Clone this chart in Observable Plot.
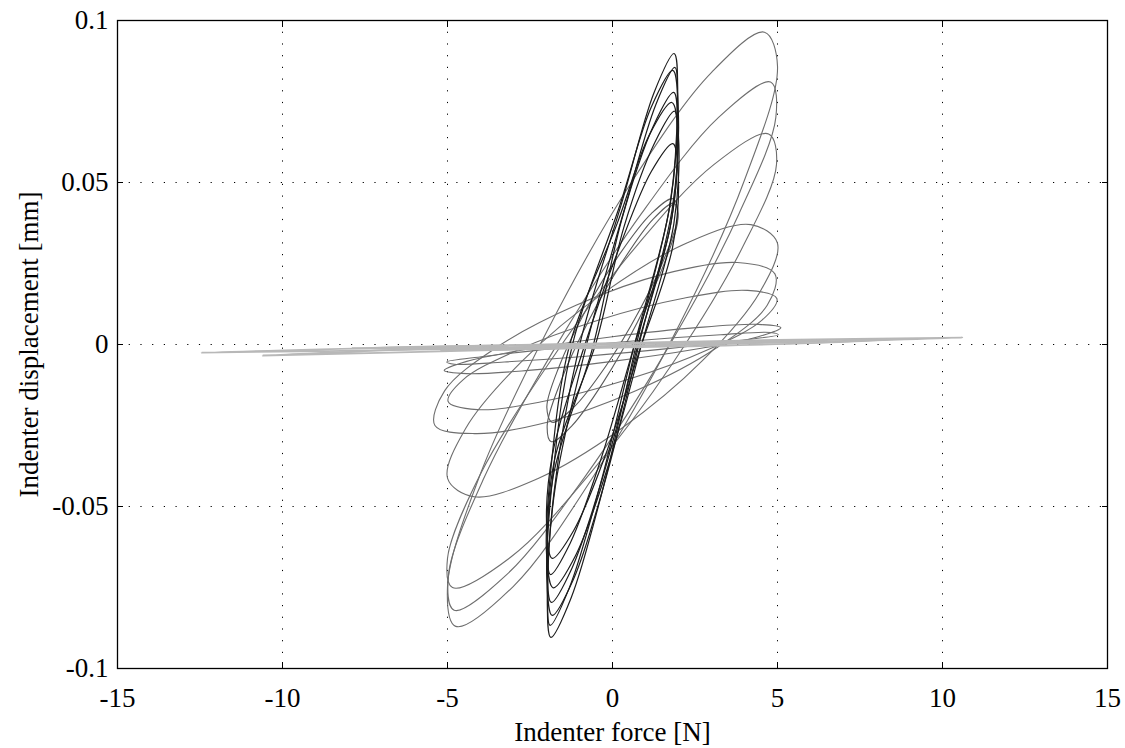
<!DOCTYPE html>
<html><head><meta charset="utf-8">
<script src="https://cdn.jsdelivr.net/npm/d3@7"></script>
<script src="https://cdn.jsdelivr.net/npm/@observablehq/plot@0.6"></script>
<style>
body{margin:0;background:#fff}
#chart{width:1125px;height:748px}
#chart svg, #chart svg text{font-family:"Liberation Serif","Times New Roman",serif !important;}
</style>
</head><body><div id="chart"></div>
<script>
const xTicks = [-15, -10, -5, 0, 5, 10, 15];
const yTicks = [-0.1, -0.05, 0, 0.05, 0.1];
const xLabel = "Indenter force [N]";
const yLabel = "Indenter displacement [mm]";

// Black loops (force about ±2 N), points [force, displacement] read around each loop
const darkLoops = [
  [[.716,-.0003],[1.77,.0448],[1.976,.0777],[1.868,.0898],[1.258,.0777],[.312,.0448],[-1.0,-.0003],[-1.77,-.0454],[-1.976,-.0783],[-1.868,-.0904],[-1.258,-.0783],[-.312,-.0454]],
  [[.652,-.0006],[1.73,.0425],[1.964,.0740],[1.892,.0855],[1.312,.0740],[.382,.0425],[-.8,-.0006],[-1.73,-.0437],[-1.964,-.0752],[-1.892,-.0867],[-1.312,-.0752],[-.382,-.0437]],
  [[.814,.0005],[1.82,.0426],[1.99,.0733],[1.828,.0846],[1.176,.0733],[.21,.0426],[-1.2,.0005],[-1.82,-.0416],[-1.99,-.0723],[-1.828,-.0836],[-1.176,-.0723],[-.21,-.0416]],
  [[.75,-.0009],[1.79,.0385],[1.98,.0673],[1.854,.0778],[1.232,.0673],[.278,.0385],[-.6,-.0009],[-1.79,-.0403],[-1.98,-.0691],[-1.854,-.0796],[-1.232,-.0691],[-.278,-.0403]],
  [[.876,-.0002],[1.86,.0373],[1.996,.0647],[1.798,.0747],[1.118,.0647],[.14,.0373],[-1.3,-.0002],[-1.86,-.0377],[-1.996,-.0651],[-1.798,-.0751],[-1.118,-.0651],[-.14,-.0377]],
  [[.684,.0005],[1.75,.0363],[1.97,.0624],[1.88,.072],[1.286,.0624],[.348,.0363],[-.5,.0005],[-1.75,-.0353],[-1.97,-.0614],[-1.88,-.071],[-1.286,-.0614],[-.348,-.0353]],
  [[.814,-.002],[1.82,.030],[1.99,.0534],[1.828,.062],[1.176,.0534],[.21,.030],[-.9,-.002],[-1.82,-.034],[-1.99,-.0574],[-1.828,-.066],[-1.176,-.0574],[-.21,-.034]]
];

// Dark grey transition loops
const midLoops = [
  [[.814,.0105],[1.618,.0278],[1.99,.0404],[1.828,.045],[1.176,.0404],[.21,.0278],[-.814,.0105],[-1.618,-.0068],[-1.99,-.0194],[-1.828,-.024],[-1.176,-.0194],[-.21,-.0068]],
  [[.75,.0068],[1.576,.0252],[1.98,.0387],[1.854,.0436],[1.232,.0387],[.278,.0252],[-.75,.0068],[-1.576,-.0116],[-1.98,-.0251],[-1.854,-.03],[-1.232,-.0251],[-.278,-.0116]]
];

// Grey loops (force about ±5 N)
const grayLoops = [
  [[1.955,.0047],[3.995,.0506],[5.0,.0860],[4.605,.0964],[3.01,.0841],[.61,.0506],[-1.955,.0047],[-4.05,-.0412],[-5.0,-.0747],[-4.75,-.087],[-3.01,-.0747],[-.61,-.0412]],
  [[1.71,-.0005],[3.83,.0403],[4.95,.0701],[4.79,.081],[3.215,.0701],[.87,.0403],[-1.71,-.0005],[-3.9,-.0413],[-4.97,-.0711],[-4.8,-.082],[-3.215,-.0711],[-.87,-.0413]],
  [[1.875,-.005],[3.94,.030],[4.97,.0556],[4.73,.065],[3.08,.0556],[.695,.030],[-1.875,-.005],[-4.0,-.040],[-5.0,-.066],[-4.85,-.075],[-3.08,-.0656],[-.695,-.040]],
  [[2.725,-.005],[4.455,.016],[4.995,.0314],[4.195,.037],[2.27,.0314],[-.26,.016],[-2.725,-.005],[-4.455,-.026],[-4.995,-.0414],[-4.195,-.047],[-2.27,-.0414],[.26,-.026]],
  [[3.144,-.0011],[4.688,.0121],[4.922,.0218],[3.783,.0253],[1.578,.0218],[-1.105,.0121],[-3.544,-.0011],[-5.088,-.0143],[-5.38,-.025],[-4.183,-.0275],[-1.978,-.024],[.705,-.0143]],
  [[2.87,-.0017],[4.53,.0075],[4.98,.0142],[4.095,.0167],[2.115,.0142],[-.435,.0075],[-2.87,-.0017],[-4.53,-.0109],[-4.98,-.0176],[-4.095,-.0201],[-2.115,-.0176],[.435,-.0109]],
  [[2.55,-.0014],[4.417,.0024],[5.1,.0052],[4.417,.0062],[2.55,.0052],[0,.0024],[-2.55,-.0014],[-4.417,-.0052],[-5.1,-.008],[-4.417,-.009],[-2.55,-.008],[0,-.0052]],
  [[1.744,-.0012],[3.907,.0013],[5.024,.003],[4.794,.0037],[3.279,.003],[.887,.0013],[-1.744,-.0012],[-3.907,-.0037],[-5.024,-.0054],[-4.794,-.0061],[-3.279,-.0054],[-.887,-.0037]]
];

// Light grey, nearly flat loops (large force, tiny displacement)
const lightLoops = [
  [[10.6,.0021],[5,.0014],[0,.0004],[-6,-.0008],[-12.45,-.0025],[-6,-.0016],[0,-.0004],[5,.0006]],
  [[8.5,.0016],[3,.0008],[-3,-.0004],[-10.6,-.0034],[-4,-.0018],[2,-.0006],[6,.0004]],
  [[6.5,.0013],[0,.0002],[-7.9,-.0011],[-3,-.0010],[3,.0001]],
  [[5.1,.0011],[0,.0001],[-5.2,-.0018],[0,-.0007]]
];

function rows(loops, tag) {
  return loops.flatMap((pts, i) => pts.map(([F, d]) => ({loop: tag + i, F, d})));
}

const font = "Liberation Serif";
const fs = 27;
const lineOpts = (stroke, w) => ({x: "F", y: "d", z: "loop", stroke, strokeWidth: w, curve: "catmull-rom-closed"});

const chart = Plot.plot({
  width: 1125,
  height: 748,
  marginLeft: 117,
  marginRight: 18,
  marginTop: 20,
  marginBottom: 80,
  style: {fontFamily: font, fontSize: fs + "px", color: "black", background: "white"},
  x: {domain: [-15, 15], label: null},
  y: {domain: [-0.1, 0.1], label: null},
  marks: [
    Plot.gridX(xTicks, {stroke: "black", strokeOpacity: 1, strokeWidth: 1, strokeDasharray: "1.2,10.5"}),
    Plot.gridY(yTicks, {stroke: "black", strokeOpacity: 1, strokeWidth: 1, strokeDasharray: "1.2,10.5"}),
    Plot.line(rows(grayLoops, "g"), lineOpts("#6e6e6e", 1.1)),
    Plot.line(rows(midLoops, "m"), lineOpts("#5a5a5a", 1.1)),
    Plot.line(rows(darkLoops, "d"), lineOpts("#1c1c1c", 1.2)),
    Plot.line(rows(lightLoops, "l"), lineOpts("#b8b8b8", 1.8)),
    Plot.frame({stroke: "black", strokeWidth: 1.3}),
    Plot.axisX(xTicks, {anchor: "bottom", tickSize: 0, tickPadding: 19, tickFormat: d => String(d), fontSize: fs, fontFamily: font, label: null}),
    Plot.axisX(xTicks, {anchor: "bottom", tickSize: 6, dy: -6, fill: "none", label: null}),
    Plot.axisX(xTicks, {anchor: "top", tickSize: 6, dy: 6, fill: "none", label: null}),
    Plot.axisY(yTicks, {anchor: "left", tickSize: 0, tickPadding: 9, tickFormat: d => String(d), fontSize: fs, fontFamily: font, label: null}),
    Plot.axisY(yTicks, {anchor: "left", tickSize: 6, dx: 6, fill: "none", label: null}),
    Plot.axisY(yTicks, {anchor: "right", tickSize: 6, dx: -6, fill: "none", label: null}),
    Plot.text([xLabel], {text: d => d, frameAnchor: "bottom", dy: 72, fontSize: fs, fontFamily: font, textAnchor: "middle"}),
    Plot.text([yLabel], {text: d => d, frameAnchor: "left", rotate: -90, dx: -88, fontSize: fs, fontFamily: font, textAnchor: "middle"})
  ]
});
document.getElementById("chart").appendChild(chart);
</script>
</body></html>
